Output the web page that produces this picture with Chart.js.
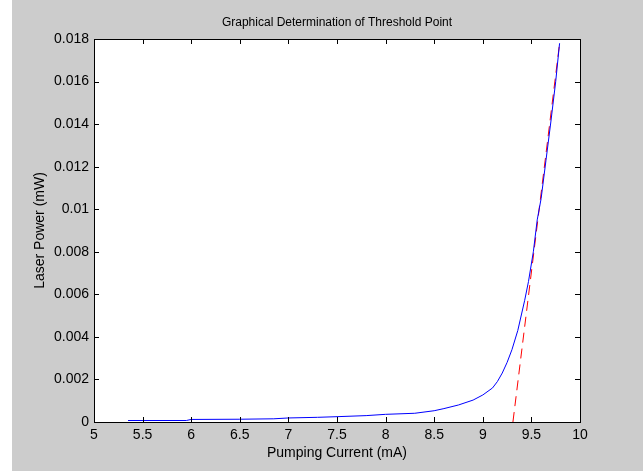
<!DOCTYPE html>
<html>
<head>
<meta charset="utf-8">
<script src="https://cdn.jsdelivr.net/npm/chart.js@4/dist/chart.umd.min.js"></script>
<style>
  html, body { margin: 0; padding: 0; background: #fff; }
  #wrap { position: absolute; left: 12px; top: 0; width: 631px; height: 471px; }
</style>
</head>
<body>
<div id="wrap"><canvas id="chart"></canvas></div>
<script>
// measured laser output vs pumping current
const currentMA = [5.35, 5.95, 6.0, 6.5, 6.85, 7.0, 7.3, 7.5, 7.8, 8.0, 8.3, 8.5, 8.6, 8.75, 8.9, 9.0, 9.1, 9.15, 9.2, 9.25, 9.3, 9.36, 9.43, 9.47, 9.52, 9.56, 9.6, 9.65, 9.7, 9.75, 9.79];
const powerMW = [0.00007, 0.00007, 0.00012, 0.00013, 0.00015, 0.00019, 0.00022, 0.00025, 0.0003, 0.00036, 0.00041, 0.00053, 0.00063, 0.0008, 0.00103, 0.00127, 0.0016, 0.0019, 0.0023, 0.0028, 0.0034, 0.0043, 0.0057, 0.0066, 0.0080, 0.0095, 0.0105, 0.0123, 0.0141, 0.0160, 0.0178];

// linear fit of the lasing region, extended down to zero power
const fitCurrent = [9.31, 9.79];
const fitPower = [0, 0.0178];

const xTickLabels = ["5", "5.5", "6", "6.5", "7", "7.5", "8", "8.5", "9", "9.5", "10"];
const yTickLabels = ["0", "0.002", "0.004", "0.006", "0.008", "0.01", "0.012", "0.014", "0.016", "0.018"];

const FONT = "Liberation Sans, Arial, sans-serif";

// matlab-ish frame: gray figure, white axes, box with inward ticks
const matlabFrame = {
  id: "matlabFrame",
  beforeDraw(chart) {
    const { ctx, chartArea: a, width, height } = chart;
    ctx.save();
    ctx.fillStyle = "#cccccc";
    ctx.fillRect(0, 0, width, height);
    ctx.fillStyle = "#ffffff";
    ctx.fillRect(a.left, a.top, a.right - a.left, a.bottom - a.top);
    ctx.restore();
  },
  afterDraw(chart) {
    const { ctx, chartArea: a, scales } = chart;
    const len = 5;
    ctx.save();
    ctx.strokeStyle = "#000";
    ctx.lineWidth = 1;
    ctx.beginPath();
    scales.x.ticks.forEach(t => {
      const px = Math.round(scales.x.getPixelForValue(t.value)) + 0.5;
      ctx.moveTo(px, a.bottom); ctx.lineTo(px, a.bottom - len);
      ctx.moveTo(px, a.top); ctx.lineTo(px, a.top + len);
    });
    scales.y.ticks.forEach(t => {
      const py = Math.round(scales.y.getPixelForValue(t.value)) + 0.5;
      ctx.moveTo(a.left, py); ctx.lineTo(a.left + len, py);
      ctx.moveTo(a.right, py); ctx.lineTo(a.right - len, py);
    });
    ctx.stroke();
    ctx.strokeRect(Math.round(a.left) + 0.5, Math.round(a.top) + 0.5,
      Math.round(a.right - a.left), Math.round(a.bottom - a.top));
    ctx.restore();
  }
};

new Chart(document.getElementById("chart"), {
  type: "scatter",
  data: {
    datasets: [
      {
        data: currentMA.map((c, i) => ({ x: c, y: powerMW[i] })),
        showLine: true,
        borderColor: "#0000ff",
        borderWidth: 1,
        pointRadius: 0,
        tension: 0,
      },
      {
        data: fitCurrent.map((c, i) => ({ x: c, y: fitPower[i] })),
        showLine: true,
        borderColor: "#ff0000",
        borderWidth: 1,
        borderDash: [10, 6],
        pointRadius: 0,
      },
    ],
  },
  plugins: [matlabFrame],
  options: {
    responsive: true,
    maintainAspectRatio: false,
    animation: false,
    layout: { padding: { left: 0, right: 63, top: 0, bottom: 0 } },
    plugins: {
      legend: { display: false },
      tooltip: { enabled: false },
      title: {
        display: true,
        fullSize: false,
        text: "Graphical Determination of Threshold Point",
        color: "#000",
        font: { family: FONT, size: 12, weight: "normal" },
        padding: { top: 15, bottom: 9.6 },
      },
    },
    scales: {
      x: {
        type: "linear",
        min: 5,
        max: 10,
        border: { display: false },
        grid: { display: false, drawTicks: false },
        afterBuildTicks: s => { s.ticks = xTickLabels.map(v => ({ value: +v })); },
        afterFit: s => { s.height = 49; },
        ticks: {
          color: "#000",
          padding: 5,
          maxRotation: 0,
          font: { family: FONT, size: 14 },
          callback: (v, i) => xTickLabels[i],
        },
        title: {
          display: true,
          text: "Pumping Current (mA)",
          color: "#000",
          font: { family: FONT, size: 14 },
          padding: { top: 0, bottom: 9 },
        },
      },
      y: {
        type: "linear",
        min: 0,
        max: 0.018,
        border: { display: false },
        grid: { display: false, drawTicks: false },
        afterBuildTicks: s => { s.ticks = yTickLabels.map(v => ({ value: +v })); },
        afterFit: s => { s.width = 82; },
        ticks: {
          color: "#000",
          padding: 5,
          font: { family: FONT, size: 14 },
          callback: (v, i) => yTickLabels[i],
        },
        title: {
          display: true,
          text: "Laser Power (mW)",
          color: "#000",
          font: { family: FONT, size: 14 },
          padding: { top: 20, bottom: 0 },
        },
      },
    },
  },
});
</script>
</body>
</html>
